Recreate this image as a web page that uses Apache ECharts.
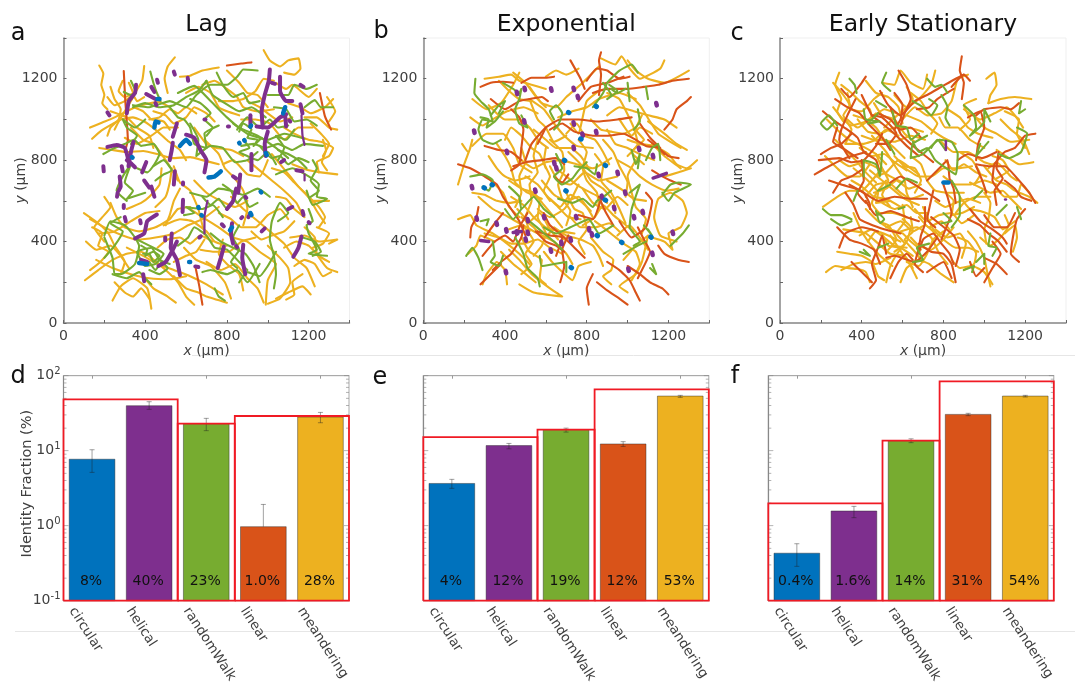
<!DOCTYPE html>
<html><head><meta charset="utf-8"><style>html,body{margin:0;padding:0;background:#fff}#c{width:1075px;height:683px}</style>
<script src="https://cdn.jsdelivr.net/npm/echarts@6/dist/echarts.min.js"></script></head><body><div id="c"></div>
<script>
const categories=['circular','helical','randomWalk','linear','meandering'];
const colors=['#0072BD','#7E2F8E','#77AC30','#D95319','#EDB120'];

const lagMeander=[
[175,1265,195,1225,185,1170,200,1120,190,1080,215,1050],
[395,1262,385,1190,350,1130,330,1090,300,1040,270,990,250,950],
[130,960,190,985,240,1005,290,1030,340,1055,400,1075,470,1085,520,1060],
[140,905,185,945,235,975,280,1000,340,1010,395,990,450,950,510,895,570,850,600,800],
[175,860,240,850,310,840,390,845,460,830,530,810,620,815,680,800,760,780],
[420,1000,470,1010,520,1050,560,1030,600,1060,650,1030],
[345,1060,390,1040,430,1000,490,990,520,950],
[215,1110,250,1070,300,1090,340,1120,360,1090,395,1110],
[510,1130,495,1200,510,1260,545,1305],
[570,1210,620,1215,680,1240,760,1255],
[680,1170,740,1190,800,1150,850,1110,880,1060,950,1040,1030,1050],
[600,1130,660,1160,720,1130,760,1060,800,1040,860,1020],
[980,1340,1010,1290,1060,1260,1100,1290,1150,1300,1160,1250,1130,1220,1080,1230],
[1040,1180,1090,1150,1120,1170,1200,1110,1240,1150],
[1100,1080,1160,1060,1210,1030,1280,1060,1320,1100],
[1180,1010,1240,1010,1300,960,1340,950],
[1080,960,1130,930,1200,900,1260,890,1320,860,1300,820,1240,790,1250,740],
[1270,900,1285,850,1265,790,1290,750],
[1120,780,1200,750,1260,740,1340,730],
[1020,830,1060,780,1110,720,1150,670,1200,620,1240,550,1280,490],
[900,800,960,750,1020,700,1080,650,1140,590,1170,530],
[540,770,570,690,620,650,660,560,680,480,700,420],
[570,660,540,600,520,530,500,480],
[530,760,520,690,500,620,450,570],
[100,540,170,490,220,440,250,380,300,300,280,240],
[105,210,170,260,240,310,310,340,380,350,430,320],
[130,510,200,470,290,430,360,410,450,420,540,440,610,480,680,510,760,570],
[230,590,260,520,300,470,370,450,450,470,520,510,560,560,620,570],
[200,620,230,570,190,520,150,470,200,400],
[170,440,250,450,330,500,400,540,470,550],
[310,370,390,330,460,290,540,260,620,230,700,190,780,140],
[240,110,280,180,340,220,410,170,430,70],
[390,230,440,170,510,130,550,100],
[430,320,500,260,560,200,600,130,640,90],
[160,310,240,270,330,240,420,220,520,215,600,230],
[620,560,680,520,760,470,830,420,900,400,960,350,1040,290,1000,210,990,90],
[700,300,770,260,840,290,900,220,950,170,980,100],
[820,620,880,560,940,510,1010,450,1080,390,1130,320,1190,270,1230,180],
[760,540,820,510,870,470,940,470,1000,530,1060,560,1100,510],
[1000,380,1060,320,1100,270,1110,200,1060,120,1000,95],
[1040,120,1100,150,1170,180,1210,140],
[1110,420,1180,430,1250,400,1340,410,1300,390],
[1180,470,1230,420,1240,340,1290,270,1340,250],
[1130,280,1180,310,1230,290,1270,230,1310,250],
[1200,620,1250,570,1280,520,1250,470],
[1040,620,1090,610,1130,560,1180,520],
[670,360,740,350,810,350,870,400,940,420],
[540,300,600,330,650,350,690,410],
[540,230,600,170,660,150,700,130,800,100],
[690,900,760,830,790,760,830,720,880,650,900,560,880,480],
[900,1090,960,1060,1000,1030,1060,990,1120,1010],
[330,960,390,900,440,880,520,770,560,700],
[300,910,360,880,430,920,490,960,560,960],
[640,960,700,880,750,860,820,850,880,820],
[780,780,830,800,900,730,960,720,1000,800],
[760,1090,830,1090,880,1100,940,1140,980,1200,1030,1190],
[230,1160,250,1100,280,1050,270,1000,230,960,215,920],
[320,1180,340,1130,300,1110,270,1140,290,1190],
[230,1040,310,1010,360,960,420,920,440,860],
[440,1040,500,1020,540,980,600,1010,640,1060,700,1030,740,990],
[800,1240,860,1180,900,1130,950,1120,1000,1060],
[870,1000,940,1000,1010,980,1080,900,1150,960,1220,960],
[1210,980,1260,930,1300,880,1270,820],
[1290,1110,1330,1040,1300,990],
[1020,760,1080,740,1130,690,1180,640,1220,600,1300,600],
[640,700,700,640,770,600,840,570,900,600],
[480,760,470,680,420,620,380,590,310,560],
[140,470,190,440,170,380,220,350,180,300,130,260],
[110,400,160,360,230,380,280,330,320,270],
[250,200,300,150,340,130,380,170,420,120],
[460,370,510,410,570,420,620,390,670,430,730,400],
[490,480,570,510,630,500,700,450,740,400,800,380],
[590,370,650,310,720,280,790,200,820,120],
[780,410,760,340,800,290,860,240,880,160],
[920,450,970,410,1020,430,1080,450,1130,500],
[1080,370,1140,400,1200,380,1250,330,1300,300],
[1170,240,1120,200,1130,140,1090,115],
[1240,470,1300,440,1270,390,1220,370],
];
const lagRandom=[
[195,830,240,855,300,880,345,900,380,870,440,880,470,830,445,780,410,740,360,760],
[330,1190,355,1130,330,1120,295,1135],
[425,1235,440,1180,455,1135,475,1090],
[340,1070,420,1060,520,1090,600,1060,650,1120,720,1170,800,1170,850,1210,880,1245,950,1240],
[520,1060,560,1010,590,1000,620,960,640,880,700,860,690,930,760,970],
[560,1130,640,1165,720,1090,800,1010,860,960,950,920,1040,860,1100,810],
[830,980,900,930,1000,900,1080,930,1180,905],
[1000,1120,1100,1120,1130,1170,1190,1150,1240,1170],
[1180,1060,1230,1095,1260,1060,1320,1060],
[850,950,900,1010,960,960,1010,1000,1050,960,1100,970],
[870,870,930,880,990,860,1050,880,1120,850,1180,880,1270,870],
[750,1230,780,1170,830,1110,880,1130,910,1080,960,1090],
[620,980,660,900,650,820,720,870,780,860,840,790,900,800,950,840],
[960,870,1020,810,1060,820,1100,780,1150,810,1200,790],
[310,600,260,650,290,720,330,780,300,690,340,650,310,610,400,640],
[450,700,490,730,530,750,490,800,440,770],
[200,430,230,500,300,480,350,420,370,380,350,290,280,240,250,240,240,320,200,420],
[360,410,420,380,460,360,490,340,450,290,400,280,360,350,430,370,470,310,520,290],
[560,380,610,420,640,470,700,430,740,370,800,360,860,300,900,260],
[620,640,700,620,760,660,820,650,880,630,950,660,1010,620],
[590,530,640,540,600,570,680,560,730,580,780,520],
[1050,500,1100,540,1060,590,1020,500,1010,410,1030,330,1040,240,1030,170],
[1040,730,1120,760,1200,720,1250,680,1240,620,1290,610,1220,580,1190,650],
[1200,560,1220,500,1190,480,1200,440,1240,360,1200,340,1290,330],
[960,290,900,200,850,260,800,240,720,260,680,250],
[740,170,760,130,790,110],
[1170,420,1230,400,1260,350,1220,330],
[1050,850,1100,830,1150,800,1190,760],
[330,880,360,920,310,960,290,1000,350,960,400,1000],
[380,380,410,360,400,330,440,350,470,330,440,300,420,340,390,340],
[420,300,450,260,480,300,510,270,470,240,420,260],
[860,940,880,980,920,950,900,910,950,900,930,870,970,910],
[880,900,910,860,860,840,900,820,950,800,1000,840,1040,780],
[780,680,820,650,850,590,880,620,910,570,950,590],
[680,620,720,580,760,610,800,560,830,590],
[860,480,830,420,860,360,820,300,850,270],
[620,1100,670,1080,720,1030,690,1000,730,960,700,920],
[340,1060,400,1080,470,1060,540,1070,600,1110,660,1140,700,1190],
[700,1190,730,1120,790,1080,860,1040,920,1060,990,1010],
[1030,1060,1090,1050,1130,990,1190,1000,1240,970],
[1050,800,1080,860,1040,920,1090,900,1130,950],
[1220,800,1240,760,1210,700,1250,650,1210,620],
[200,320,250,380,290,450,230,490,280,520],
[240,240,310,220,370,250,400,220,430,190],
[720,440,770,400,830,370,890,340,930,280,960,200],
[860,200,900,250,960,230,1000,280,1040,350],
];
const lagHelical=[
[215,1035,225,1020],[195,770,197,745],[215,865,260,875,300,860,320,790],[355,1170,350,1130,320,1090,310,1030],
[343,890,330,840,318,770],[310,800,335,780,350,765],[285,770,290,745],[275,720,280,670,270,650],[265,640,262,620],[295,580,295,565],[300,520,305,500],
[405,790,385,740],[395,700,420,665],[430,670,445,620],[405,1125,450,1100],[430,1160,445,1135],[458,1195,462,1180],[540,1235,545,1220],[608,1205,610,1190],
[450,1080,455,1070],[555,980,535,915],[535,885,530,850,520,800],[545,745,540,680],[585,690,585,680],[585,605,583,545],[600,925,640,910,670,850,700,800,690,740],
[690,1000,695,1000],[805,965,810,965],[830,720,845,710],[865,730,860,680,855,640],[845,660,830,600,800,560],[890,620,895,615],[875,520,870,515],[775,485,785,475],
[825,490,820,440,830,390],[970,450,985,465],[845,378,850,372],[785,375,770,320,755,270],[880,385,875,320,890,240],[530,440,525,370,555,310,570,235],[498,420,498,405],
[465,280,500,300,530,350,555,400],[645,278,660,275],[390,240,395,205],[380,310,410,300],[457,533,410,500,395,440,350,415],[375,505,378,490],
[1010,1245,1005,1190,985,1120,970,1040,975,960],[945,965,1000,960,1060,1010,1090,1025],[1060,1210,1060,1140,1090,1090,1120,1090],[1020,1180,1035,1175],[1160,1170,1175,1160],
[1160,1075,1170,1030],[1085,1020,1090,965],[1105,995,1110,990],[915,1020,915,965],[1000,940,985,880,990,820],[920,830,920,750],[1065,790,1080,800],[1140,750,1170,745],
[1100,560,1120,570],[1170,550,1175,530],[1200,495,1205,490],[1165,425,1150,370,1125,325],[665,420,672,425],[905,520,910,530]
];
const lagHelicalThin=[[1165,1020,1170,920,1180,875],[705,600,690,520,690,440],[1180,730,1180,700]];
const lagCircular=[[460,1100,470,1100],[445,960,450,990,465,985],[570,870,600,900,620,880],[710,715,740,720,770,745],[915,540,920,530],[995,825,990,835],[1075,1030,1085,1060],[915,965,918,970],[335,815,338,812],[370,295,410,290],[615,300,620,300],[660,570,662,565],[675,530,678,528],[815,455,825,470],[965,645,968,642],[1010,720,1012,718],[860,885,862,882],[885,898,887,895]];
const lagLinear=[[295,1238,302,1100,315,900,300,840],[800,1265,870,1275,920,1280],[1255,1130,1280,1015,1310,950],[645,280,665,180,680,90]];

const expMeander=[
[300,1200,370,1210,430,1220,470,1190,530,1170,600,1150],
[240,1100,310,1050,380,1080,440,1170,470,1230],
[230,1010,290,970,340,1000,410,1040,490,1060,560,1030],
[190,880,220,840,240,900,230,860,200,780,170,680],
[240,870,310,930,390,930,440,860,470,780,530,740],
[320,1070,400,1000,470,1000,520,960,570,890,610,860],
[360,880,400,820,430,760,450,690,510,640,580,610],
[520,1100,590,1050,640,980,690,920,750,870,830,860],
[520,1160,580,1080,650,1060,700,1110,780,1180,860,1260],
[660,1010,730,1040,800,1060,860,1100,960,1130,1040,1100],
[870,1300,940,1270,970,1310,1010,1250,1060,1200,1160,1250,1180,1290],
[1000,1290,1040,1240,1100,1200,1180,1180,1300,1240],
[760,1250,700,1220,650,1240,600,1210],
[900,1020,960,1060,1030,1040,1100,1020,1180,1000,1240,960],
[1000,1130,1060,1070,1110,990,1150,930,1210,890,1260,860],
[1000,900,1060,880,1130,870,1200,830,1240,780,1290,760,1340,800],
[950,800,1020,760,1060,720,1120,680,1190,650,1250,660],
[1100,990,1180,930,1240,880,1290,850],
[620,900,680,840,690,750,660,680,680,610,720,550,700,480],
[560,900,540,820,560,740,520,680,530,600,500,520,520,450],
[480,860,500,790,470,720,480,640,450,570],
[760,900,800,840,780,760,800,700,850,640,860,560],
[840,830,880,770,870,700,920,640,960,560,990,490],
[1040,800,1000,720,1020,640,1040,570,1090,510,1070,440],
[430,620,490,580,540,520,600,470,670,450,740,440],
[270,620,340,560,400,530,470,490,560,440,640,400,700,340,730,290],
[170,510,230,530,260,480,340,440,410,390,470,340,520,290],
[300,440,370,420,430,390,490,390,560,410,620,370,680,340],
[580,700,640,630,700,600,760,620,800,570,830,520],
[840,500,880,470,930,430,980,390,1040,350,1060,290,1020,210],
[1120,420,1180,400,1220,360,1200,440,1260,470,1290,540,1270,600,1210,640,1150,610,1130,520,1160,430,1240,400],
[980,310,1040,380,1100,430,1070,300,1040,240,960,180,1000,150],
[820,420,880,350,930,310,920,260,880,230,920,190],
[590,350,630,300,660,270,730,210,760,280,820,300],
[420,360,470,310,530,240,620,170,680,130,540,150,470,190],
[290,190,310,240,360,300,400,260,410,190],
[480,420,520,350,580,310,570,220,600,190],
[220,340,260,380,280,430,350,400],
[240,640,300,630,360,600,420,590,480,600],
[620,770,660,700,720,680,790,740,860,700,950,720],
[480,800,540,760,600,790,670,800,750,780,830,760,920,810],
[900,950,940,880,1000,860,1060,830,1130,800],
[820,1000,870,950,920,940,980,930,1040,960],
[720,980,760,930,780,1010,800,1090,860,1140],
[520,1100,560,1000,600,960,640,890,700,920],
[900,700,980,650,1030,610,1090,600],
[720,520,770,470,840,470,910,490,960,450],
[320,820,360,760,400,720,450,700,520,720],
[560,560,620,520,690,560,730,620,760,680],
[900,1130,960,1100,1030,960,1050,880,1000,820],
[1180,720,1250,740,1310,760],[1120,880,1180,820,1260,760],
[370,1190,420,1140,470,1100,530,1090],[440,1230,500,1180,560,1100,600,1060],
[400,900,430,960,480,920,530,860,570,830,600,760],
[540,950,600,900,650,860,720,860,770,820,810,760],
[600,860,590,790,620,720,590,650,620,600],
[650,760,700,720,750,680,800,650,860,620,900,590],
[700,930,750,980,790,920,840,900,880,840,910,780],
[710,840,770,780,820,700,880,660,930,600,940,540],
[500,720,560,680,600,630,660,570,710,520,770,510],
[420,700,480,660,540,640,590,580,640,520,680,470],
[460,560,520,500,570,540,620,460,660,410],
[520,650,570,600,560,520,600,440,580,380,540,330],
[620,610,670,570,720,630,780,590,820,550],
[780,660,830,590,890,560,950,620,1000,580],
[880,900,930,840,960,770,1000,690,990,620],
[1070,1020,1040,950,1080,900,1020,840,1080,780],
[960,1000,1020,920,1060,960,1120,930],
[780,480,840,520,880,580,930,530,980,490,1030,450],
[640,470,700,430,770,410,830,380,860,330,880,280],
[480,520,540,470,590,420,640,460,690,410],
[420,460,480,480,540,400,500,340,530,290,480,240],
[380,350,440,290,490,250,550,200],
[700,640,740,560,780,540,800,460,760,400,790,340],
[950,430,1010,480,1060,420,1100,360],
[330,700,390,640,420,570,470,520],
];
const expLinear=[
[280,1160,330,1180,390,1185,440,1180],
[330,1100,400,1050,470,1090,520,1100,580,1110,610,1090],
[480,1180,530,1205,600,1205,640,1210],
[720,1290,770,1200,790,1150],[860,1120,870,1220,860,1290,870,1330],
[800,1190,850,1250,900,1240,960,1200,1010,1210],
[830,1130,900,1150,1000,1150,1080,1160,1150,1170,1220,1190,1300,1200],
[760,1090,820,1160,900,1180,980,1210],
[1180,950,1220,1000,1240,1050,1290,1090,1310,1110],
[300,870,370,850,430,840,480,800],
[170,780,230,760,300,720,360,680,390,620,430,560,470,500,500,430],
[430,750,470,780,480,860,490,950,470,1010,430,1050],
[440,770,500,790,580,800,650,810,690,780],
[500,800,530,880,600,960,670,1000,760,1000,850,990,950,1000,1020,1010],
[620,950,680,980,740,940,830,920,900,920,980,930,1040,900,1090,870,1150,860,1200,820,1250,810],
[560,880,600,960],[1100,900,1150,860,1180,830],
[1120,750,1170,720,1210,700,1260,680],
[1060,980,1110,910,1160,860],
[270,570,260,520,235,470,230,420],
[300,420,350,490,390,540],[290,330,350,400,400,430,440,400,470,470,510,540],
[340,260,380,300,430,340,480,420,490,480],
[280,190,320,230,380,290],
[590,540,620,480,680,430,720,390,760,350,790,320],
[550,450,600,400,650,380,690,350],
[670,200,690,280,680,360,710,430],
[640,720,680,690,710,730],[760,530,830,510,870,610],[860,620,890,550,930,480],
[830,240,800,170,810,90],
[850,200,900,160,960,120,1000,90],
[900,300,960,260,1010,210,1040,150,1060,110],
[1000,280,1060,240,1110,200,1170,170,1200,140],
[1050,220,1090,300,1110,350,1080,410,1050,470],
[1150,380,1180,340,1250,310,1300,300],
[960,500,1020,420,1090,470,1120,600,1090,640],
[560,450,620,430,680,420,650,330],
];
const expRandom=[
[255,1200,250,1130,280,1090,320,1050,340,990,290,1000,270,950,290,900,340,880,380,900],
[330,1020,370,1070,400,1090,370,1030],
[390,1180,440,1150,470,1130,480,1150,470,1100,450,1050,470,980,510,960,480,1020],
[640,1000,620,1040,650,1070,680,1030,660,970,640,950],
[830,1060,880,1130,900,1180,960,1240,1020,1270,1050,1230],
[920,1150,950,1130,990,1150],[1000,1180,1010,1090],[1090,1160,1100,1100],
[1030,950,1060,990,1050,1050],
[1090,800,1120,860,1150,880,1160,800],
[1020,850,1040,780,1060,830,1050,760],
[230,720,290,730,340,700,320,650,290,670],
[420,670,470,620,480,560,540,620,590,560,640,520],
[650,830,680,760,640,720,680,680,730,710,760,750,800,790],
[740,770,800,760,840,730,850,780],
[660,610,730,590,780,610,830,570,850,600,870,610,920,650],
[1010,640,1060,680,1020,560,1010,470,1060,400,1030,380],
[1170,630,1210,680,1250,690,1310,680,1230,640,1200,600,1170,640],
[590,470,650,440,720,470,810,510,860,440,930,480],
[1080,480,1120,430,1100,460],[1210,380,1270,440,1300,480],
[980,340,1050,380,1090,400],
[210,330,240,370,270,320,290,260],[340,400,350,330,330,300,370,280,390,330],
[450,420,490,340,510,270,560,220,570,180],
[570,330,580,280,640,290,700,300,700,250],
[520,500,580,450,640,400,680,360],
[1120,290,1140,240,1110,270],
[280,500,320,510,310,480],[400,560,440,510,480,560],
[880,1180,920,1120,900,1100,950,1140,910,1170],
[280,1010,320,1000,310,960,350,990,390,1040],
];
const expHelical=[[248,940],[408,840],[457,1130],[495,1150],[625,1147],[735,1150],[755,1110],[493,990],[735,980],[845,938],[778,925],[735,860],[1055,855],[1123,820],[1140,1075],[640,785],[650,760],[857,727],[950,737],[237,667],[547,650],[987,640],[873,620],[933,565],[1073,545],[1030,520],[1220,443],[260,513],[358,488],[405,455],[457,445],[510,505],[590,520],[747,520],[510,443],[810,460],[824,435],[500,410],[720,410],[675,393],[623,356],[1120,340],[1003,262],[403,250]];
const expHelicalLong=[[1125,712,1150,720,1190,735],[280,405,320,400],[440,445,480,450]];
const expCircular=[[710,1035],[845,1065],[770,905],[690,800],[890,775],[336,680],[297,665],[697,650],[890,605],[850,430],[970,397],[1113,423],[723,273]];

const statMeander=[
[290,1230,270,1170,300,1100,280,1040,310,990],
[300,1170,350,1130,390,1090,440,1050,450,1000],
[330,1130,350,1050,400,1040,460,1100,500,1130],
[500,1180,560,1170,590,1240,640,1180,700,1150,720,1220],
[560,1120,620,1060,680,1100,740,1170,760,1240],
[600,1000,660,1060,720,1020,790,1030,840,1090,870,1200,920,1220],
[1010,1200,1050,1230,1060,1170,1030,1120,1020,1080],
[1020,1080,1080,1100,1150,1110,1230,1100],
[900,1050,980,1000,1050,1030,1110,1060,1150,1020,1190,960],
[1080,1000,1130,950,1190,900,1220,830],
[950,1020,1000,960,1060,930,1130,890,1220,900],
[230,1000,290,940,340,900,400,870,470,830,520,780],
[270,900,320,850,370,800,420,740,470,690],
[290,800,340,770,410,790,480,760,540,720,600,690],
[210,570,280,620,340,650,400,650,450,700,500,760],
[320,880,410,880,480,900,560,890,640,920,710,900],
[450,920,520,840,570,760,610,700,620,640,650,570],
[520,700,480,650,450,590,490,540,550,540,620,520],
[420,620,470,680,530,690,590,640,640,610,700,630],
[640,820,690,780,720,700,760,650,820,640,900,640],
[600,770,680,720,740,720,800,760,870,760,940,770],
[1000,770,1060,700,1110,680,1150,650,1220,620,1260,590],
[930,690,990,660,1030,640,1090,650,1130,610,1180,560],
[880,620,930,560,980,550,1050,520,1090,460,1150,500],
[660,560,720,500,780,530,840,540,890,490,950,530],
[700,570,750,460,800,410,860,370,920,370,970,350],
[1000,640,1030,590,1020,510,1000,460,1010,390],
[1100,440,1150,480,1160,420,1140,350],
[310,460,370,450,420,440,470,400,540,340,610,330,650,270],
[360,540,400,450,440,390,490,330,550,280],
[280,350,340,340,400,330,450,300,480,230,510,210],
[225,250,270,280,330,270,380,265,420,250,440,200],
[520,200,540,280,580,350,620,400,640,470,600,510],
[590,200,620,270,680,310,730,290,790,240,850,200],
[640,420,680,380,740,360,800,410,850,470],
[840,310,880,270,940,280,1000,250,1040,190],
[920,450,960,400,1000,320,1010,270,1030,180],
[860,540,900,590,960,620,1030,620],
[380,1000,430,940,490,930,560,960,620,960,700,940],
[260,1060,300,1010,350,970,420,990,470,1030],
[360,760,430,700,480,640,470,590,540,600],
[780,1010,810,960,870,960,930,900,1000,860],
[780,900,850,840,920,840,1000,790,1070,770],
[1060,850,1120,810,1170,780,1240,790],
[1020,760,1060,790,1130,720,1160,700],
[480,500,540,460,600,440,640,400,690,360],
[590,450,670,470,740,420,780,340,820,290],
[500,440,530,380,590,370,650,330],
[260,1180,310,1120,340,1070,310,1020,350,950,320,880],
[420,1190,470,1130,530,1110,580,1060,600,980],
[360,1020,420,1000,470,960,510,900,560,860,610,810],
[460,1080,500,1020,560,1000,610,930,660,890],
[640,1130,690,1090,720,1040,770,980,740,930],
[620,1020,690,990,740,950,800,910,860,880],
[820,1050,880,1010,920,960,970,930,1040,910],
[220,820,280,760,330,720,390,720,440,780],
[390,860,450,820,510,830,560,790,620,750],
[440,750,500,700,560,650,610,610,680,580],
[470,830,500,760,530,700,500,630,540,570],
[560,820,610,770,660,760,690,700,660,640],
[350,700,400,670,460,620,520,610,590,570],
[500,590,560,560,620,580,670,540,720,540],
[600,580,610,500,570,440,610,390,560,350],
[640,520,650,450,610,410,660,350,700,300],
[420,560,480,500,530,480,570,410,530,360],
[390,430,450,460,510,420,560,380,620,370],
[620,300,680,280,720,340,750,410,800,450],
[760,600,810,570,860,590,920,610,980,590],
[800,720,860,680,930,680,1000,700,1060,680],
[1060,660,1100,620,1160,620,1180,680,1220,640],
[980,420,1030,380,1080,420,1120,480,1100,530],
[870,420,920,400,960,340,950,290,900,260],
[760,460,820,420,880,440,910,390,890,320],
[810,640,850,600,840,530,890,540,950,570],
[300,260,360,290,420,300,470,290,540,320],
[1040,820,1090,800,1120,750,1060,710],
[880,840,940,800,980,730,950,680],
[620,1160,650,1100,600,1040,550,1000,510,960],
[810,800,850,750,900,780,960,740,1010,720],
[460,640,520,660,570,700,630,660,690,680],
[470,720,520,740,580,800,640,760,680,730],
[400,920,460,900,520,950,580,920],
[330,1000,380,960,440,1000,510,1050,570,1030],
[520,470,590,500,650,450,710,480,760,440],
[540,430,600,340,640,280,670,220],
[430,400,470,450,530,430,590,400],
[680,520,730,470,790,500,830,460],
[1100,1040,1170,1000,1160,930,1200,860],
[880,950,930,1000,900,1070,960,1100],
];
const statLinear=[
[210,1040,270,990,330,950,380,910,410,840,470,800,490,730],
[300,1150,340,1110,400,1180,420,1210],[370,1100,330,1020,300,950,290,900,340,810],
[400,1120,450,1020,500,980,560,930,620,870,680,820],
[490,1140,530,1070,590,1020,660,1090,720,1120,790,1160,860,1200,900,1220],
[580,1240,620,1170,640,1100,610,1030,590,970],
[890,1310,880,1240,900,1180,890,1100],[840,1160,900,1220,930,1190],
[540,1060,590,930,640,880,700,830,750,790],
[450,1020,500,1010,570,930,530,880,470,880],
[380,810,320,850,260,890,280,960],
[190,800,290,810,350,790,410,800,470,870,500,930],
[170,730,240,770,320,810,420,840],
[240,700,300,680,370,660,410,640,440,580,440,560],
[340,680,410,640,480,600,560,620,640,610,720,610],
[400,800,410,700,380,640,420,590],
[720,700,780,760,820,800,830,710,850,660,860,590],
[800,680,820,620,840,540,810,460,790,410],
[960,1020,1000,1050,1080,1060,1130,1050,1170,1080],
[920,1010,980,1040,1000,960,970,880,960,800],
[1250,930,1200,920,1150,860,1100,840,1050,780,1040,700,1080,640],
[1070,840,1060,760,1090,710,1050,650,1060,580],
[960,780,1030,770,1100,770,1170,700,1220,640,1250,590],
[960,770,990,700,1010,640],[1000,530,1050,470,1110,470,1150,540],
[920,510,980,480,1020,440,1070,400,1110,350],
[930,560,980,500,1040,460,1090,420,1110,390],
[1200,560,1160,510,1140,420,1130,340,1170,300],
[1040,400,1080,340,1040,270,1000,200],[1000,320,1060,290,1110,240],
[850,290,830,340,790,390,750,440,700,410,680,340],
[710,570,710,490,690,430,680,370,660,290,700,250],
[760,470,720,510,730,560,750,650],
[680,390,740,350,800,340,840,290,860,200],
[720,250,800,300,840,220],
[520,340,500,430,480,370,450,290,470,210,440,170],
[320,640,360,580,390,510,430,490,510,460,590,440],
[290,370,320,440,400,470,480,450],
[420,600,470,530,540,550,620,520,680,500],
[350,300,400,250,450,200],[540,220,580,300,620,340,650,310],
[520,320,560,330,660,300,720,350,770,420],
[930,300,960,230,1000,270],
[270,1100,330,1060,390,1030,440,970,500,910,540,850],
[480,1030,540,1000,590,950,640,960,690,910],
[560,1130,600,1070,590,1000,560,950],
[670,1050,730,1060,770,1100,850,1150],
[350,930,300,880,250,860,200,830],
[410,760,350,720,300,700,260,640],
[540,690,590,720,660,680,720,640,780,600],
[1100,700,1150,660,1180,620,1230,600],
[870,800,920,830,990,810,1060,840],
[280,470,340,410,400,390,460,360,490,290],
[740,520,790,480,850,430,880,360,860,280],
];
const statRandom=[
[340,1200,365,1170,375,1130],[520,1230,500,1180,540,1140],[720,1200,760,1160,790,1170,820,1130],[790,1120,820,1060,810,1010,830,970],
[470,1090,520,1060],[730,1100,770,1070,740,1020,700,1060,650,1090],
[410,1050,420,1000,490,990,430,980,480,1030],[270,990,230,950,200,980,240,1020,280,970],
[550,1040,570,970,620,960,640,900,680,930],[900,1070,950,1020,960,960,930,920,1000,990,1000,1050,1030,990],
[1180,1090,1170,1030,1200,1050],[1160,960,1210,930,1180,840,1120,810,1070,830],
[980,880,960,820,1020,890],[650,890,680,840,720,860,760,800,800,770,860,730,870,830,840,890,780,900,700,830,640,810,650,880,720,920],
[740,860,770,900,810,850],[410,720,410,800,470,780,490,720,500,840],[520,900,560,830],
[570,660,620,710,670,690],[840,700,880,620,880,530,840,470],[950,610,990,650],
[210,560,250,530,300,530,350,510],[250,510,300,480,350,500],[360,600,380,650],
[480,540,510,510,490,490,470,550],[800,540,840,500,790,490],[1060,530,1110,580],[1160,570,1180,510],
[1030,440,1020,380,1060,370,1040,330],[960,300,1000,340,1000,290],[900,260,950,280,940,250],
[390,350,440,330,410,360],[480,370,530,390],[650,300,700,310,670,370,730,390],
[480,650,540,680],[580,560,610,570],
];
const statHelical=[[812,893,812,850],[1102,607,1106,607]];
const statCircular=[[800,690,825,690],[1113,489,1116,490]];

const barValues=[[7.7,39.8,22.9,0.97,28.1],[3.66,11.7,19.1,12.3,53.5],[0.43,1.57,13.6,30.5,53.5]];
const barLabels=[['8%','40%','23%','1.0%','28%'],['4%','12%','19%','12%','53%'],['0.4%','1.6%','14%','31%','54%']];
const errorLow=[[5.14,35.6,18.5,0.97,23.6],[3.15,10.6,17.7,11.4,51.4],[0.287,1.28,12.8,29.3,52]];
const errorHigh=[[10.3,45,27,1.92,32.4],[4.15,12.5,20,13.2,54.7],[0.575,1.81,14.4,31.5,54.7]];
const redGroups=[[[0,2,48.3],[2,3,22.9],[3,5,29]],[[0,2,15.2],[2,3,19.1],[3,5,65.8]],[[0,2,1.98],[2,3,13.6],[3,5,84]]];
const logMajor=[0.1,1,10,100];
const logMinor=[0.2,0.3,0.4,0.5,0.6,0.7,0.8,0.9,2,3,4,5,6,7,8,9,20,30,40,50,60,70,80,90];

const panels=[
 {left:63.5,title:'Lag',tracks:[[lagMeander,4,2.1],[lagLinear,3,2.1],[lagRandom,2,2.1],[lagHelical,1,4],[lagHelicalThin,1,2.2],[lagCircular,0,4.5]]},
 {left:423.3,title:'Exponential',tracks:[[expMeander,4,2.1],[expLinear,3,2.1],[expRandom,2,2.1],[expHelicalLong,1,3.5],[expHelical.map(p=>[p[0],p[1]+6,p[0]+3,p[1]-6]),1,4.5],[expCircular.map(p=>[p[0],p[1],p[0]+3,p[1]-2]),0,5]]},
 {left:780,title:'Early Stationary',tracks:[[statMeander,4,2.1],[statLinear,3,2.1],[statRandom,2,2.1],[statHelical,1,2.5],[statCircular,0,4.5]]}
];
const barLefts=[63.5,423.3,768.3];
const letters=[['a',18,32],['b',381,30],['c',737,32],['d',18,375],['e',380,376],['f',735,375]];

const grid=[],xAxis=[],yAxis=[],series=[],title=[];
const dark='#404040';
const rich14={i:{fontStyle:'italic',fontSize:14,color:dark,fontFamily:'DejaVu Sans'}};
panels.forEach((p,i)=>{
  grid.push({left:p.left,top:38,width:286,height:285,show:true,borderColor:'#efefef',borderWidth:1});
  xAxis.push({gridIndex:i,type:'value',min:0,max:1400,interval:200,splitLine:{show:false},
    axisLine:{show:true,onZero:false,lineStyle:{color:'#888',width:1.5}},axisTick:{show:true,inside:true,length:3,lineStyle:{color:'#666'}},
    axisLabel:{color:dark,fontSize:14,margin:6,fontFamily:'DejaVu Sans',formatter:v=>v%400===0&&v<1400?String(v):''},
    name:'{i|x} (μm)',nameLocation:'middle',nameMoveOverlap:false,nameGap:21,nameTextStyle:{color:dark,fontSize:14,fontFamily:'DejaVu Sans',rich:rich14}});
  yAxis.push({gridIndex:i,type:'value',min:0,max:1400,interval:200,splitLine:{show:false},
    axisLine:{show:true,onZero:false,lineStyle:{color:'#888',width:1.5}},axisTick:{show:true,inside:true,length:3,lineStyle:{color:'#666'}},
    axisLabel:{color:dark,fontSize:14,margin:6,fontFamily:'DejaVu Sans',formatter:v=>v%400===0&&v<1400?String(v):''},
    name:'{i|y} (μm)',nameLocation:'middle',nameMoveOverlap:false,nameGap:35,nameTextStyle:{color:dark,fontSize:14,fontFamily:'DejaVu Sans',rich:rich14}});
  p.tracks.forEach(([arr,c,w])=>arr.forEach(t=>{
    const d=[];for(let k=0;k<t.length;k+=2)d.push([t[k],t[k+1]]);
    series.push({type:'line',xAxisIndex:i,yAxisIndex:i,data:d,showSymbol:false,silent:true,animation:false,clip:true,smooth:0.15,
      lineStyle:{color:colors[c],width:w,cap:'round',join:'round'}});
  }));
  title.push({text:p.title,left:p.left+143,top:13,padding:0,textAlign:'center',textStyle:{fontSize:23.5,fontWeight:'normal',color:'#111',fontFamily:'DejaVu Sans'}});
});

barLefts.forEach((left,b)=>{
  const g=grid.length, xi=xAxis.length, yi=yAxis.length;
  grid.push({left:left,top:375.7,width:285.5,height:225,show:true,borderColor:'#aaa',borderWidth:1});
  xAxis.push({gridIndex:g,type:'category',data:categories,position:'bottom',axisLine:{lineStyle:{color:'#888',width:1.2}},
    axisTick:{show:true,inside:true,alignWithLabel:true,length:3,lineStyle:{color:'#777'}},axisLabel:{show:false}});
  xAxis.push({gridIndex:g,type:'category',data:categories,position:'top',axisLine:{lineStyle:{color:'#aaa'}},
    axisTick:{show:true,inside:true,alignWithLabel:true,length:3,lineStyle:{color:'#999'}},axisLabel:{show:false}});
  xAxis.push({gridIndex:g,type:'value',min:0,max:5,show:false});
  yAxis.push({gridIndex:g,type:'log',logBase:10,min:0.1,max:100,splitLine:{show:false},
    axisLine:{show:true,onZero:false,lineStyle:{color:'#888',width:1.2}},axisTick:{show:false},minorTick:{show:false},
    axisLabel:{show:b===0,margin:3,color:dark,fontSize:14,fontFamily:'DejaVu Sans',
      formatter:v=>'{b|10}{s|'+Math.round(Math.log10(v))+'}',
      rich:{b:{fontSize:14,color:dark,fontFamily:'DejaVu Sans'},s:{fontSize:10,color:dark,fontFamily:'DejaVu Sans',padding:[0,0,8,0]}}},
    name:b===0?'Identity Fraction (%)':'',nameLocation:'middle',nameMoveOverlap:false,nameGap:29,nameTextStyle:{color:dark,fontSize:14.5,fontFamily:'DejaVu Sans',padding:[0,0,0,9]}});
  series.push({type:'custom',xAxisIndex:xi,yAxisIndex:yi,animation:false,silent:true,z:4,clip:false,
    data:barValues[b].map((v,i)=>[i,v]),encode:{x:0,y:1},
    renderItem:(params,api)=>{
      const i=api.value(0),top=api.coord([i,api.value(1)]),bot=api.coord([i,0.1]),w=api.size([1,1])[0]*0.8;
      return {type:'group',children:[
        {type:'rect',shape:{x:top[0]-w/2,y:top[1],width:w,height:bot[1]-top[1]},style:{fill:colors[i],stroke:'rgba(40,40,40,.55)',lineWidth:0.8}},
        {type:'text',style:{text:barLabels[b][i],x:top[0]-1,y:bot[1]-19.5,align:'center',verticalAlign:'middle',fill:'#111',fontSize:14,fontFamily:'DejaVu Sans'}},
        {type:'text',x:top[0]-20,y:bot[1]+8,rotation:-57*Math.PI/180,style:{text:categories[i],x:0,y:0,align:'left',verticalAlign:'middle',fill:dark,fontSize:13.5,fontFamily:'DejaVu Sans'}}
      ]};
    }});
  series.push({type:'custom',xAxisIndex:xi,yAxisIndex:yi,animation:false,silent:true,z:5,clip:false,
    data:errorLow[b].map((l,i)=>[i,l,errorHigh[b][i]]),
    encode:{x:0,y:[1,2]},
    renderItem:(params,api)=>{
      const lo=api.coord([api.value(0),api.value(1)]),hi=api.coord([api.value(0),api.value(2)]),x=lo[0];
      const st={stroke:'rgba(30,30,30,.42)',lineWidth:1,fill:null};
      const hasLow=api.value(1)!==barValues[b][api.value(0)];
      const kids=[{type:'line',shape:{x1:x,y1:lo[1],x2:x,y2:hi[1]},style:st},{type:'line',shape:{x1:x-2.5,y1:hi[1],x2:x+2.5,y2:hi[1]},style:st}];
      if(hasLow)kids.push({type:'line',shape:{x1:x-2.5,y1:lo[1],x2:x+2.5,y2:lo[1]},style:st});
      return {type:'group',children:kids};
    }});
  redGroups[b].forEach(([s,e,lvl])=>{
    series.push({type:'line',xAxisIndex:xi+2,yAxisIndex:yi,animation:false,silent:true,showSymbol:false,z:6,clip:false,
      data:[[s,0.1],[s,lvl],[e,lvl],[e,0.1],[s,0.1]],lineStyle:{color:'#F01A24',width:1.8,join:'miter'}});
  });
  [[logMajor,5],[logMinor,3]].forEach(([vals,size])=>{
    [[0,1],[5,-1]].forEach(([xp,dir])=>{
      series.push({type:'scatter',xAxisIndex:xi+2,yAxisIndex:yi,animation:false,silent:true,z:3,
        data:vals.map(v=>[xp,v]),symbol:'rect',symbolSize:[size,0.8],symbolOffset:[dir*size/2,0],itemStyle:{color:'#888'}});
    });
  });
});
letters.forEach(([t,x,y])=>title.push({text:t,left:x,top:y-10,padding:0,textAlign:'center',textStyle:{fontSize:24,fontWeight:'normal',color:'#111',fontFamily:'DejaVu Sans'}}));

const rule=(x1,y,x2)=>({type:'line',silent:true,z:-1,shape:{x1,y1:y,x2,y2:y},style:{stroke:'#e6e6e6',lineWidth:1}});
const chart=echarts.init(document.getElementById('c'),null,{renderer:'canvas'});
chart.setOption({animation:false,backgroundColor:'#fff',grid,xAxis,yAxis,series,title,
  graphic:[rule(192,355.5,1075),rule(15,631.5,1075)]});
</script></body></html>
